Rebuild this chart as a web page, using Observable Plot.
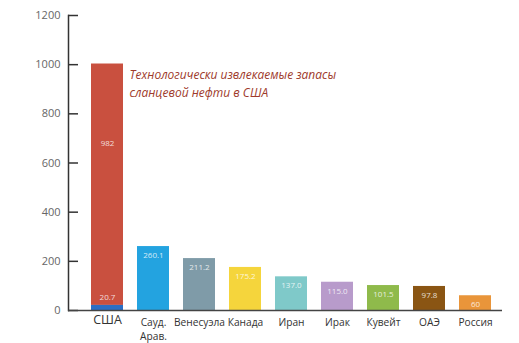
<!DOCTYPE html>
<html>
<head>
<meta charset="utf-8">
<script src="https://cdn.jsdelivr.net/npm/d3@7"></script>
<script src="https://cdn.jsdelivr.net/npm/@observablehq/plot@0.6"></script>
<style>
  html, body { margin: 0; padding: 0; background: #fff; }
  svg { display: block; }
</style>
</head>
<body>
<div id="chart"></div>
<script>
const countries = ["США", "Сауд. Арав.", "Венесуэла", "Канада", "Иран", "Ирак", "Кувейт", "ОАЭ", "Россия"];
const values = [20.7, 260.1, 211.2, 175.2, 137.0, 115.0, 101.5, 97.8, 60];
const labels = ["20.7", "260.1", "211.2", "175.2", "137.0", "115.0", "101.5", "97.8", "60"];
const colors = ["#2a6ec4", "#23a3e0", "#7f9ba8", "#f5d53c", "#7fc9c9", "#b89bcb", "#8fba4b", "#8a5513", "#e9953a"];
const usShale = 982;
const usShaleLabel = "982";
const shaleColor = "#c9503f";
const note = "Технологически извлекаемые запасы\nсланцевой нефти в США";
const yTicks = [0, 200, 400, 600, 800, 1000, 1200];

const base = countries.map((c, i) => ({country: c, y1: 0, y2: values[i], label: labels[i], color: colors[i]}));
const shale = [{country: "США", y1: values[0], y2: values[0] + usShale, label: usShaleLabel, color: shaleColor}];
const bars = [...shale, ...base];

const chart = Plot.plot({
  width: 519,
  height: 343,
  marginLeft: 68,
  marginRight: 17,
  marginTop: 15,
  marginBottom: 33,
  style: {fontFamily: "'Open Sans', sans-serif", background: "#fff"},
  x: {domain: countries, range: [81, 502], paddingInner: 0.3, paddingOuter: 0.15},
  y: {domain: [0, 1200]},
  marks: [
    Plot.barY(bars, {x: "country", y1: "y1", y2: "y2", fill: "color"}),
    Plot.text(base.filter(d => d.country !== "США"), {
      x: "country", y: "y2", text: "label", dy: 9, fill: "white", fillOpacity: 0.8, fontSize: 8
    }),
    Plot.text(base.filter(d => d.country === "США"), {
      x: "country", y: "y2", text: "label", dy: -8, fill: "white", fillOpacity: 0.8, fontSize: 8
    }),
    Plot.text(shale, {
      x: "country", y: d => d.y1 + (d.y2 - d.y1) * 0.67, text: "label", fill: "white", fillOpacity: 0.8, fontSize: 8
    }),
    Plot.text([note], {
      x: () => "США", y: () => 930, text: d => d, dx: 22, textAnchor: "start",
      fontStyle: "italic", fontSize: 12, fill: "#9e3a2b", lineHeight: 1.5
    }),
    Plot.frame({anchor: "left", stroke: "#333", strokeWidth: 1.5}),
    Plot.axisY(yTicks, {tickSize: 0, tickPadding: 8, fontSize: 11, fill: "#666", tickFormat: d => String(d), label: null}),
    Plot.axisY(yTicks, {tickSize: -10, text: null, stroke: "#333", strokeWidth: 1.5, label: null, tickFormat: d => ""}),
    Plot.axisX(["США"], {tickSize: 0, tickPadding: 5, fontSize: 12.5, fill: "#333", label: null}),
    Plot.axisX(countries.filter(c => c !== "США"), {
      tickSize: 0, tickPadding: 5, fontSize: 10.2, fill: "#333", label: null,
      tickFormat: d => d === "Сауд. Арав." ? "Сауд.\nАрав." : d, lineHeight: 1.4
    }),
    Plot.ruleY([0], {stroke: "#444", strokeWidth: 1.5})
  ]
});
document.getElementById("chart").appendChild(chart);
</script>
</body>
</html>
